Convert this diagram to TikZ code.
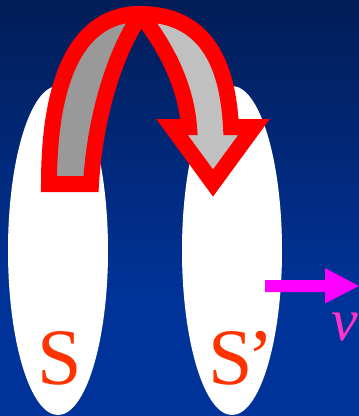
\documentclass[tikz,border=0pt]{standalone}
\usepackage{fontspec}
\setmainfont{Liberation Serif}
\definecolor{bgtop}{HTML}{021D57}
\definecolor{bgbot}{HTML}{003399}
\definecolor{arcred}{HTML}{FF0000}
\definecolor{darkband}{HTML}{999999}
\definecolor{lightband}{HTML}{C0C0C0}
\definecolor{lbl}{HTML}{FF3300}
\definecolor{vmag}{HTML}{FF00FF}
\definecolor{vtext}{HTML}{FF33CC}
\begin{document}
\begin{tikzpicture}[x=1pt,y=-1pt,
  band/.style={draw=arcred,line width=16pt,line join=miter,line cap=butt},
  plate/.style={fill=white},
  lab/.style={text=lbl,font=\fontsize{80}{80}\selectfont,inner sep=0pt},
  vlab/.style={text=vtext,font=\itshape\fontsize{60}{60}\selectfont,inner sep=0pt}]
\useasboundingbox (0,0) rectangle (359,416);
% background
\shade[top color=bgtop,bottom color=bgbot] (0,0) rectangle (359,300);
\fill[bgbot] (0,299.5) rectangle (359,416);
% the two frames
\fill[plate] (58,250.5) ellipse [x radius=50pt, y radius=164.5pt];
\fill[plate] (232,250.5) ellipse [x radius=50pt, y radius=164.5pt];
% arch arrow: back band
\draw[band, fill=darkband] (142,14) .. controls (124,36) and (96,100) .. (91,184)
  -- (49,184) .. controls (49,90) and (72,14) .. (140,14);
% arch arrow: front band with head
\draw[band, fill=lightband] (140,14) .. controls (210,14) and (228,70) .. (231,127)
  -- (254,127) -- (213,183) -- (172,127) -- (189,127)
  .. controls (186,85) and (165,45) .. (140,14);
% velocity arrow
\fill[vmag] (265,280) -- (325,280) -- (325,268) -- (359,286) -- (325,303.5)
  -- (325,292) -- (265,292) -- cycle;
% labels
\node[lab, anchor=base] (s1) at (60,384) {S};
\node[lab, anchor=base west] (s2) at (208,384) {S\kern-5pt’};
\node[vlab, anchor=base] (v) at (345,340) {v};
\end{tikzpicture}
\end{document}
